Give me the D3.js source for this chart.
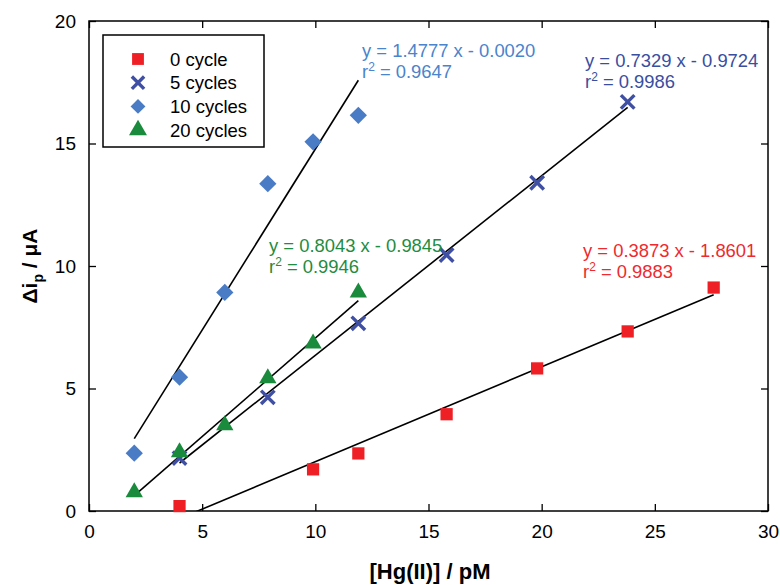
<!DOCTYPE html>
<html>
<head>
<meta charset="utf-8">
<script src="https://cdn.jsdelivr.net/npm/d3@7"></script>
<style>
  body { margin: 0; background: #fff; }
  text { font-family: "Liberation Sans", Arial, sans-serif; }
</style>
</head>
<body>
<div id="chart"></div>
<script>
// data
const xTicks = [0, 5, 10, 15, 20, 25, 30];
const yTicks = [0, 5, 10, 15, 20];

const x0 = [4, 9.9, 11.9, 15.8, 19.8, 23.8, 27.6];
const y0 = [0.2, 1.7, 2.35, 3.95, 5.82, 7.33, 9.12];

const x5 = [4, 7.9, 11.9, 15.8, 19.8, 23.8];
const y5 = [2.16, 4.64, 7.66, 10.45, 13.4, 16.7];

const x10 = [2, 4, 6, 7.9, 9.9, 11.9];
const y10 = [2.36, 5.46, 8.92, 13.36, 15.07, 16.15];

const x20 = [2, 4, 6, 7.9, 9.9, 11.9];
const y20 = [0.77, 2.4, 3.5, 5.42, 6.84, 8.92];

// linear fits
const fits = [
  { name: "0 cycle",   slope: 0.3873, icpt: -1.8601, from: 4, to: 27.6, r2: "0.9883", color: "#ee2a2e", sign: "- 1.8601" },
  { name: "5 cycles",  slope: 0.7329, icpt: -0.9724, from: 4, to: 23.8, r2: "0.9986", color: "#3a4ea0", sign: "- 0.9724" },
  { name: "10 cycles", slope: 1.4777, icpt: -0.0020, from: 2, to: 11.9, r2: "0.9647", color: "#4a84cc", sign: "- 0.0020" },
  { name: "20 cycles", slope: 0.8043, icpt: -0.9845, from: 2, to: 11.9, r2: "0.9946", color: "#1f8c42", sign: "- 0.9845" }
];

const width = 780, height = 585;
const margin = { top: 21, right: 12, bottom: 74, left: 89 };

const svg = d3.select('#chart').append('svg')
  .attr('width', width)
  .attr('height', height);

const x = d3.scaleLinear().domain([0, 30]).range([margin.left, width - margin.right]);
const y = d3.scaleLinear().domain([0, 20]).range([height - margin.bottom, margin.top]);

svg.append('defs').append('clipPath').attr('id', 'plot')
  .append('rect')
  .attr('x', x(0)).attr('y', y(20))
  .attr('width', x(30) - x(0)).attr('height', y(0) - y(20));

// axes, ticks pointing inward
const ax = (g) => {
  g.select('.domain').remove();
  g.selectAll('.tick line').attr('stroke', '#000').attr('stroke-width', 1.3);
  g.selectAll('.tick text').attr('fill', '#000').style('font-size', '19px');
};

svg.append('g')
  .attr('transform', `translate(0,${y(0)})`)
  .call(d3.axisBottom(x).tickValues(xTicks).tickSizeInner(-7).tickSizeOuter(0).tickPadding(14))
  .call(ax);

svg.append('g')
  .attr('transform', `translate(0,${y(20)})`)
  .call(d3.axisTop(x).tickValues(xTicks).tickSizeInner(-7).tickSizeOuter(0).tickFormat(''))
  .call(ax);

svg.append('g')
  .attr('transform', `translate(${x(0)},0)`)
  .call(d3.axisLeft(y).tickValues(yTicks).tickSizeInner(-7).tickSizeOuter(0).tickPadding(13))
  .call(ax);

svg.append('g')
  .attr('transform', `translate(${x(30)},0)`)
  .call(d3.axisRight(y).tickValues(yTicks).tickSizeInner(-7).tickSizeOuter(0).tickFormat(''))
  .call(ax);

svg.append('rect')
  .attr('x', x(0)).attr('y', y(20))
  .attr('width', x(30) - x(0)).attr('height', y(0) - y(20))
  .attr('fill', 'none').attr('stroke', '#000').attr('stroke-width', 1.5);

// fit lines
svg.append('g').attr('clip-path', 'url(#plot)')
  .selectAll('line')
  .data(fits)
  .join('line')
  .attr('x1', d => x(d.from)).attr('y1', d => y(d.slope * d.from + d.icpt))
  .attr('x2', d => x(d.to)).attr('y2', d => y(d.slope * d.to + d.icpt))
  .attr('stroke', '#000').attr('stroke-width', 1.6);

// markers
const symSquare = d3.symbol().type(d3.symbolSquare).size(150);
const symCross = d3.symbol().type(d3.symbolX).size(120);
const symDiamond = d3.symbol().type(d3.symbolDiamond2).size(190);
const symTriangle = d3.symbol().type(d3.symbolTriangle).size(130);

const series = [
  { xs: x0, ys: y0, sym: symSquare, color: "#ee2026", stroke: false },
  { xs: x5, ys: y5, sym: symCross, color: "#3f4fa3", stroke: true },
  { xs: x10, ys: y10, sym: symDiamond, color: "#4a7cc6", stroke: false },
  { xs: x20, ys: y20, sym: symTriangle, color: "#1a8a3c", stroke: false }
];

series.forEach(s => {
  const g = svg.append('g');
  s.xs.forEach((xv, i) => {
    const p = g.append('path')
      .attr('transform', `translate(${x(xv)},${y(s.ys[i])})`)
      .attr('d', s.sym());
    if (s.stroke) {
      p.attr('fill', 'none').attr('stroke', s.color).attr('stroke-width', 3.4);
    } else {
      p.attr('fill', s.color);
    }
  });
});

// equations
const labelPos = [
  { left: 583, top: 257 },   // 0 cycle
  { left: 585, top: 67 },    // 5 cycles
  { left: 362, top: 57 },    // 10 cycles
  { left: 269, top: 252 }    // 20 cycles
];

fits.forEach((f, i) => {
  const p = labelPos[i];
  const t = svg.append('g').attr('fill', f.color).style('font-size', '18.4px');
  t.append('text').attr('x', p.left).attr('y', p.top)
    .text(`y = ${f.slope.toFixed(4)} x ${f.sign}`);
  const t2 = t.append('text').attr('x', p.left).attr('y', p.top + 21);
  t2.append('tspan').text('r');
  t2.append('tspan').attr('dy', -7).style('font-size', '12px').text('2');
  t2.append('tspan').attr('dy', 7).text(` = ${f.r2}`);
});

// legend
const legend = svg.append('g');
legend.append('rect')
  .attr('x', 103).attr('y', 35).attr('width', 161).attr('height', 112)
  .attr('fill', '#fff').attr('stroke', '#000').attr('stroke-width', 1.5);

series.forEach((s, i) => {
  const cy = 59 + i * 23.7;
  const p = legend.append('path')
    .attr('transform', `translate(138,${cy})`)
    .attr('d', s.sym.size(s.stroke ? 100 : 140)());
  if (s.stroke) p.attr('fill', 'none').attr('stroke', s.color).attr('stroke-width', 3.4);
  else p.attr('fill', s.color);
  legend.append('text')
    .attr('x', 170).attr('y', cy + 6.5)
    .style('font-size', '18.5px')
    .text(fits[i].name);
});

// axis titles
svg.append('text')
  .attr('x', 430).attr('y', 579)
  .attr('text-anchor', 'middle')
  .style('font-size', '22px').style('font-weight', 'bold')
  .text('[Hg(II)] / pM');

const yt = svg.append('text')
  .attr('transform', `translate(37,${(y(0) + y(20)) / 2}) rotate(-90)`)
  .attr('text-anchor', 'middle')
  .style('font-size', '21px').style('font-weight', 'bold');
yt.append('tspan').text('Δi');
yt.append('tspan').attr('dy', 6).style('font-size', '14px').text('p');
yt.append('tspan').attr('dy', -6).text(' / μA');
</script>
</body>
</html>
